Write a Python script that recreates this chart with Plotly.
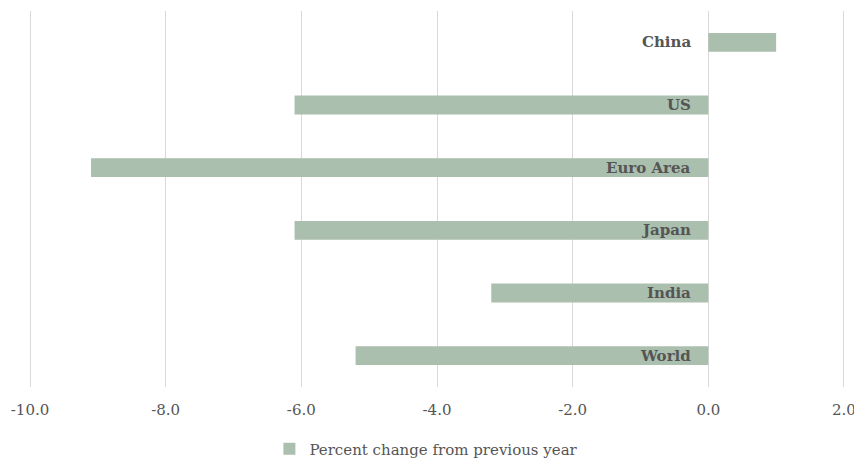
import plotly.graph_objects as go

# Real GDP growth projections by economy
countries = ["China", "US", "Euro Area", "Japan", "India", "World"]
growth = [1.0, -6.1, -9.1, -6.1, -3.2, -5.2]
series_name = "Percent change from previous year"
tick_values = [-10, -8, -6, -4, -2, 0, 2]

bar_color = "#abbfae"
text_color = "#555555"
grid_color = "#d9d9d9"
serif = "DejaVu Serif, Liberation Serif, serif"

fig = go.Figure()
fig.add_trace(go.Bar(
    y=countries,
    x=growth,
    orientation="h",
    name=series_name,
    marker=dict(color=bar_color, line=dict(width=0)),
    width=0.3,
    showlegend=True,
))

# Category names sit just left of the zero line
for c in countries:
    fig.add_annotation(
        x=0, y=c, xref="x", yref="y",
        text=f"<b>{c}</b>",
        showarrow=False,
        xanchor="right", yanchor="middle",
        xshift=-15,
        font=dict(family=serif, size=15, color=text_color),
    )

fig.update_layout(
    width=854, height=462,
    margin=dict(l=29, r=9, t=11, b=75, autoexpand=False),
    paper_bgcolor="white",
    plot_bgcolor="white",
    bargap=0.7,
    xaxis=dict(
        range=[-10.015, 2.015],
        tickvals=tick_values,
        ticktext=[f"{v:.1f}" for v in tick_values],
        showgrid=True,
        gridcolor=grid_color,
        gridwidth=1,
        zeroline=True,
        zerolinecolor=grid_color,
        zerolinewidth=1,
        showline=False,
        ticks="",
        ticklabelstandoff=12,
        ticklabeloverflow="allow",
        automargin=False,
        tickfont=dict(family=serif, size=15, color=text_color),
    ),
    yaxis=dict(
        categoryorder="array",
        categoryarray=countries,
        autorange="reversed",
        showticklabels=False,
        showgrid=False,
        zeroline=False,
        ticks="",
        automargin=False,
    ),
    legend=dict(
        orientation="h",
        x=0.487, xanchor="center",
        y=-0.165, yanchor="middle",
        font=dict(family=serif, size=15, color=text_color),
        itemwidth=30,
    ),
)

fig.write_html("out.html")
